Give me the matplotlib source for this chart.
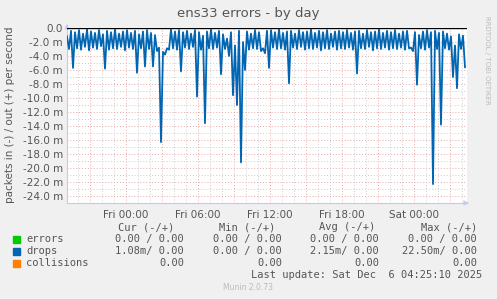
import matplotlib
matplotlib.use("Agg")
import matplotlib.pyplot as plt
import matplotlib.dates as mdates
from matplotlib.ticker import MultipleLocator, FuncFormatter
from datetime import datetime, timedelta

# drops, inbound (negative), 10-minute samples, in milli-packets/s
START = datetime(2025, 12, 4, 19, 5)
drops_in = [
    -1.2, -3.0, -0.4, -5.7, -0.6, -2.9, -0.3, -3.1, -0.8, -2.7, -0.2, -3.2, -0.5, -2.8, -0.7, -3.0, -0.3, -2.6, -0.9, -5.8,
    -0.4, -3.1, -0.6, -2.9, -0.2, -3.0, -0.8, -2.7, -0.5, -3.2, -0.3, -2.8, -0.7, -3.0, -0.4, -6.4, -0.9, -2.9, -0.5, -5.5,
    -0.3, -3.0, -0.7, -5.5, -1.0, -3.3, -2.8, -16.3, -3.4, -3.8, -2.9, -3.1, -0.2, -2.9, -0.5, -3.1, -0.3, -6.2, -0.6, -2.8,
    -0.4, -3.0, -0.8, -2.7, -0.3, -9.8, -0.6, -3.1, -1.1, -13.6, -0.5, -2.9, -0.2, -3.0, -0.7, -2.8, -0.4, -6.6, -0.9, -3.0,
    -1.5, -4.0, -0.6, -9.6, -2.5, -11.0, -0.4, -19.2, -2.0, -6.0, -0.5, -3.1, -0.8, -2.9, -0.3, -3.0, -0.6, -3.3, -2.9, -3.6,
    -0.4, -5.7, -0.3, -2.8, -0.6, -3.0, -0.2, -2.9, -0.7, -3.1, -0.5, -7.9, -0.4, -2.8, -0.8, -3.0, -0.3, -2.7, -0.6, -3.1,
    -0.5, -2.9, -0.2, -3.0, -0.7, -2.8, -0.4, -3.2, -0.6, -2.9, -0.3, -3.0, -0.8, -2.7, -0.5, -3.1, -0.4, -2.9, -0.6, -3.0,
    -0.3, -2.8, -0.7, -3.1, -0.5, -6.5, -0.4, -2.9, -0.8, -3.0, -0.3, -2.7, -0.6, -3.2, -0.5, -2.9, -0.2, -3.0, -0.7, -2.8,
    -0.4, -3.1, -0.6, -2.9, -0.3, -3.0, -0.8, -2.8, -0.5, -3.1, -0.4, -2.9, -2.8, -3.3, -0.6, -8.1, -1.0, -2.9, -0.5, -3.1,
    -0.3, -2.8, -0.6, -22.3, -0.4, -3.0, -0.7, -13.8, -0.5, -2.9, -0.8, -3.1, -1.2, -7.0, -2.5, -8.6, -0.9, -3.0, -1.1, -5.6,
]
times = [START + timedelta(minutes=10 * i) for i in range(len(drops_in))]

series = ["errors", "drops", "collisions"]
colors = ["#00CC00", "#0066B3", "#FF8000"]
cur = ["0.00 / 0.00", "1.08m/ 0.00", "0.00"]
mins = ["0.00 / 0.00", "0.00 / 0.00", "0.00"]
avgs = ["0.00 / 0.00", "2.15m/ 0.00", "0.00"]
maxs = ["0.00 / 0.00", "22.50m/ 0.00", "0.00"]

BG = "#F0F0F0"
TXT = "#555555"
W, H = 497, 299

fig = plt.figure(figsize=(W / 100, H / 100), dpi=100, facecolor=BG)
ax = fig.add_axes([67 / W, 1 - 203 / H, 400 / W, 175 / H])
ax.set_facecolor("white")

ax.plot(times, drops_in, color="#0066B3", lw=1.3, zorder=3)
ax.axhline(0, color="black", lw=1.0, zorder=4)

ax.set_xlim(START, START + timedelta(hours=33, minutes=20))
ax.set_ylim(-25, 0)

ax.xaxis.set_major_locator(mdates.HourLocator(byhour=[0, 6, 12, 18]))
ax.xaxis.set_major_formatter(mdates.DateFormatter("%a %H:%M"))
ax.yaxis.set_major_locator(MultipleLocator(2))
ax.yaxis.set_major_formatter(FuncFormatter(lambda v, p: "0.0" if abs(v) < 1e-9 else f"{v:.1f} m"))

# grid: gray dotted every hour / 1 m, red dotted every 3 h / 2 m
for h in range(20, 20 + 33):
    t = datetime(2025, 12, 4) + timedelta(hours=h)
    c = "#E8A8A8" if h % 3 == 0 else "#CCCCCC"
    ax.axvline(t, color=c, lw=0.7, ls=(0, (1, 2)), zorder=1)
for v in range(-25, 0):
    c = "#E8A8A8" if v % 2 == 0 else "#CCCCCC"
    ax.axhline(v, color=c, lw=0.7, ls=(0, (1, 2)), zorder=1)

for s in ["top", "right"]:
    ax.spines[s].set_visible(False)
for s in ["left", "bottom"]:
    ax.spines[s].set_color("#C8C8F0")
ax.tick_params(which="both", length=0, labelsize=7.5, labelcolor=TXT, pad=3)
ax.tick_params(axis="x", pad=5)

# axis arrows
ax.annotate("", xy=(0, 1.04), xycoords="axes fraction", xytext=(0, 0.99),
            arrowprops=dict(arrowstyle="-|>", color="#C8C8F0", lw=0.8, mutation_scale=7))
ax.annotate("", xy=(1.012, 0), xycoords="axes fraction", xytext=(0.99, 0),
            arrowprops=dict(arrowstyle="-|>", color="#C8C8F0", lw=0.8, mutation_scale=7))

fig.text(248 / W, 1 - 13 / H, "ens33 errors - by day", ha="center", va="center",
         fontsize=9.5, color=TXT)
fig.text(10 / W, 1 - 115 / H, "packets in (-) / out (+) per second", rotation=90,
         ha="center", va="center", fontsize=7.5, color=TXT)
fig.text(487 / W, 1 - 60 / H, "RRDTOOL / TOBI OETIKER", rotation=270,
         ha="center", va="center", fontsize=5, color="#BBBBBB")

mono = dict(family="DejaVu Sans Mono", fontsize=7.5, color=TXT, va="center")
hy = 1 - 227 / H
for txt, xr in [("Cur (-/+)", 174), ("Min (-/+)", 275), ("Avg (-/+)", 375), ("Max (-/+)", 477)]:
    fig.text(xr / W, hy, txt, ha="right", **mono)
for i, name in enumerate(series):
    y = 1 - (239 + 12 * i) / H
    fig.patches.append(plt.Rectangle((13 / W, y - 3.5 / H), 7 / W, 7 / H,
                                     transform=fig.transFigure, color=colors[i]))
    fig.text(26 / W, y, name, ha="left", **mono)
    fig.text(184 / W, y, cur[i], ha="right", **mono)
    fig.text(282 / W, y, mins[i], ha="right", **mono)
    fig.text(379 / W, y, avgs[i], ha="right", **mono)
    fig.text(477 / W, y, maxs[i], ha="right", **mono)
fig.text(482 / W, 1 - 275 / H, "Last update: Sat Dec  6 04:25:10 2025", ha="right", **mono)
fig.text(248 / W, 1 - 288 / H, "Munin 2.0.73", ha="center", va="center",
         fontsize=5.5, color="#BBBBBB")

fig.savefig("out.png", dpi=100, facecolor=BG)
